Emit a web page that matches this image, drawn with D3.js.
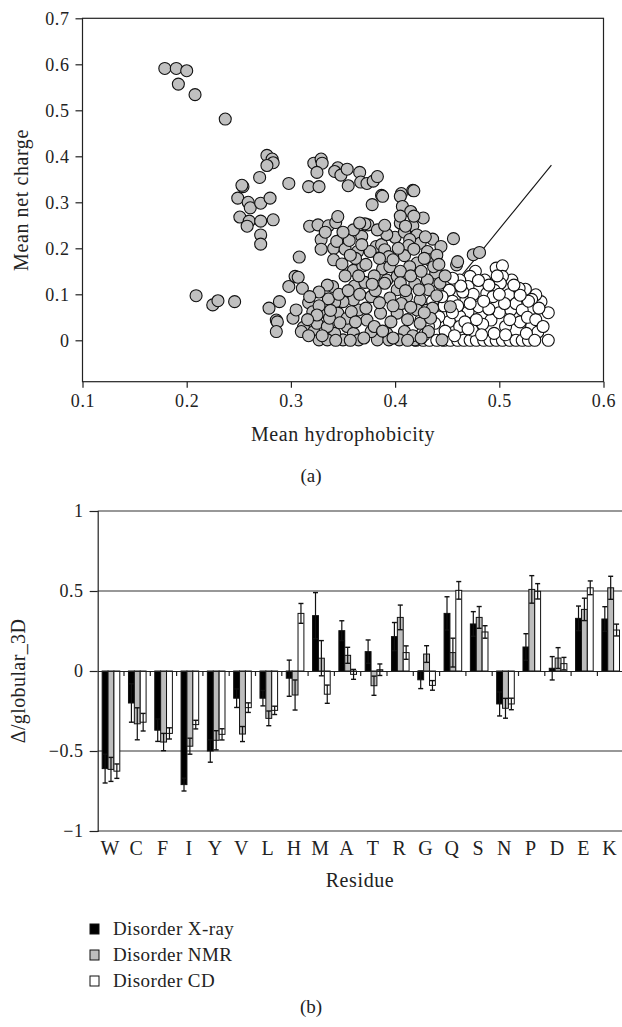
<!DOCTYPE html>
<html>
<head>
<meta charset="utf-8">
<script src="https://cdn.jsdelivr.net/npm/d3@7"></script>
<style>
  body { margin: 0; background: #fff; }
  text { font-family: "Liberation Serif", "Times New Roman", serif; fill: #222; }
</style>
</head>
<body>
<div id="chart"></div>
<script>
// ---- panel (a): scatter, mean hydrophobicity vs mean net charge ----
var disorderedPts = [
  [0.179,0.591],[0.190,0.591],[0.200,0.586],[0.192,0.557],[0.208,0.534],[0.237,0.481],
  [0.277,0.402],[0.282,0.394],[0.283,0.386],[0.277,0.380],[0.270,0.354],[0.254,0.334],[0.253,0.337],
  [0.298,0.341],[0.317,0.334],[0.327,0.334],[0.322,0.385],[0.329,0.394],[0.330,0.385],[0.325,0.365],
  [0.345,0.375],[0.342,0.367],[0.348,0.359],[0.354,0.372],[0.355,0.336],[0.366,0.365],[0.367,0.344],
  [0.373,0.341],[0.379,0.346],[0.383,0.356],[0.387,0.315],[0.406,0.319],[0.417,0.326],
  [0.249,0.309],[0.259,0.300],[0.261,0.288],[0.271,0.298],[0.280,0.309],[0.251,0.268],[0.260,0.259],
  [0.258,0.248],[0.271,0.259],[0.283,0.262],[0.271,0.229],[0.271,0.209],
  [0.209,0.097],[0.225,0.077],[0.230,0.086],[0.246,0.084],[0.279,0.070],[0.289,0.084],[0.286,0.044],
  [0.287,0.040],[0.286,0.019],[0.302,0.048],
  [0.298,0.117],[0.304,0.139],[0.307,0.137],[0.311,0.113],[0.308,0.181],[0.305,0.066],[0.317,0.082],
  [0.321,0.062],[0.312,0.028],[0.310,0.019],[0.322,0.019],[0.325,0.037],[0.327,0.001],[0.318,0.248],
  [0.326,0.251],[0.336,0.249],[0.343,0.256],[0.345,0.269],[0.329,0.219],[0.329,0.198],[0.341,0.200],
  [0.344,0.215],[0.341,0.175],[0.349,0.166],[0.352,0.198],[0.356,0.217],[0.360,0.152],[0.368,0.226],
  [0.374,0.251],[0.371,0.253],[0.378,0.295],[0.388,0.313],[0.382,0.204],[0.376,0.193],[0.364,0.193],
  [0.369,0.162],[0.387,0.208],[0.390,0.197],[0.394,0.182],[0.400,0.224],[0.405,0.313],[0.407,0.291],
  [0.415,0.280],[0.418,0.325],[0.405,0.255],[0.417,0.249],[0.427,0.266],[0.409,0.235],[0.421,0.229],
  [0.424,0.211],[0.414,0.219],[0.413,0.206],[0.431,0.193],[0.436,0.220],[0.444,0.204],[0.456,0.221],
  [0.459,0.164],[0.460,0.171],[0.475,0.186],[0.481,0.191],[0.433,0.175],[0.439,0.146],[0.431,0.131],
  [0.443,0.124],[0.421,0.168],[0.409,0.184],[0.414,0.160],[0.392,0.131],[0.402,0.139],
  [0.388,0.155],[0.390,0.124],[0.419,0.123],[0.411,0.095],[0.424,0.088],[0.421,0.066],[0.436,0.070],
  [0.424,0.037],[0.432,0.019],[0.409,0.019],[0.404,0.001],[0.402,0.059],[0.386,0.059],
  [0.392,0.015],[0.383,0.001],[0.377,0.019],[0.373,0.044],[0.365,0.066],[0.360,0.088],[0.361,0.118],
  [0.371,0.126],[0.377,0.095],[0.350,0.084],[0.342,0.082],[0.340,0.117],[0.345,0.059],[0.354,0.030],
  [0.360,0.015],[0.350,0.001],[0.342,0.015],[0.335,0.030],[0.335,0.001],[0.331,0.062],[0.337,0.048],
  [0.365,0.001],[0.354,0.048],[0.394,0.001],[0.419,0.001],[0.434,0.048],[0.432,0.110],[0.402,0.110],
  [0.336,0.090],[0.346,0.100],[0.355,0.108],[0.366,0.100],[0.381,0.108],[0.395,0.092],[0.406,0.080],
  [0.415,0.072],[0.398,0.075],[0.385,0.082],[0.372,0.070],[0.358,0.062],[0.347,0.038],[0.362,0.040],
  [0.380,0.030],[0.396,0.040],[0.412,0.045],[0.428,0.060],[0.417,0.010],[0.425,0.005],[0.412,0.000],
  [0.398,0.005],[0.388,0.020],[0.370,0.005],[0.357,0.000],[0.343,0.000],[0.330,0.010],[0.380,0.140],
  [0.395,0.160],[0.405,0.150],[0.398,0.175],[0.385,0.178],[0.372,0.165],[0.362,0.178],[0.352,0.140],
  [0.365,0.140],[0.378,0.122],[0.405,0.125],[0.415,0.140],[0.425,0.150],[0.428,0.178],[0.437,0.160],
  [0.440,0.185],[0.423,0.110],[0.410,0.108],[0.418,0.198],[0.403,0.200],[0.392,0.230],
  [0.383,0.240],[0.360,0.240],[0.350,0.235],[0.333,0.235],[0.405,0.270],[0.418,0.270],[0.366,0.255],
  [0.390,0.250],[0.368,0.208],[0.357,0.185],[0.335,0.120],[0.327,0.105],[0.318,0.095],[0.327,0.075],
  [0.338,0.065],[0.325,0.055],[0.316,0.045],[0.317,0.010],[0.429,0.225],[0.410,0.248],
  [0.440,0.097],[0.453,0.073],[0.445,0.001],[0.448,0.140],[0.442,0.165]
];
var orderedPts = [
  [0.420,0.000],[0.427,0.000],[0.433,0.000],[0.440,0.000],[0.447,0.000],[0.453,0.000],[0.460,0.000],
  [0.466,0.000],[0.472,0.000],[0.478,0.000],[0.485,0.000],[0.491,0.000],[0.497,0.000],[0.503,0.000],
  [0.510,0.000],[0.516,0.000],[0.522,0.000],[0.528,0.000],[0.547,0.000],
  [0.547,0.060],[0.540,0.084],[0.535,0.099],[0.531,0.089],[0.525,0.111],[0.519,0.113],[0.509,0.099],
  [0.515,0.055],[0.512,0.131],[0.497,0.157],[0.503,0.162],[0.503,0.139],[0.501,0.124],[0.495,0.109],
  [0.486,0.131],[0.477,0.150],[0.472,0.139],[0.462,0.131],[0.470,0.117],[0.458,0.120],[0.452,0.109],
  [0.488,0.102],[0.494,0.095],[0.480,0.073],[0.470,0.062],[0.462,0.052],[0.452,0.041],[0.442,0.051],
  [0.438,0.037],[0.462,0.030],[0.474,0.022],[0.492,0.044],[0.495,0.015],[0.506,0.030],[0.511,0.066],
  [0.516,0.080],[0.522,0.066],[0.531,0.030],[0.537,0.018],[0.526,0.015],[0.506,0.012],[0.484,0.035],
  [0.468,0.090],[0.455,0.085],[0.447,0.075],[0.432,0.030],[0.428,0.012],[0.448,0.020],[0.457,0.010],
  [0.483,0.012],[0.500,0.060],[0.505,0.080],[0.520,0.040],[0.527,0.050],[0.535,0.045],[0.528,0.085],
  [0.520,0.098],[0.514,0.120],[0.498,0.140],[0.490,0.120],[0.480,0.130],[0.475,0.100],[0.465,0.105],
  [0.460,0.075],[0.478,0.045],[0.490,0.068],[0.467,0.040],[0.455,0.060],[0.445,0.095],[0.436,0.085],
  [0.430,0.065],[0.425,0.045],[0.500,0.100],[0.510,0.045],[0.542,0.030],[0.538,0.070],[0.534,0.000],
  [0.485,0.085],[0.472,0.080],[0.463,0.118],[0.455,0.135],[0.470,0.025]
];
// boundary line <R> = 2.785<H> - 1.151
var boundaryLine = [[0.4133,0.0],[0.55,0.381]];
var hydroTicks = [0.1,0.2,0.3,0.4,0.5,0.6];
var chargeTicks = [0,0.1,0.2,0.3,0.4,0.5,0.6,0.7];

// ---- panel (b): bars with error bars ----
var residues = ["W","C","F","I","Y","V","L","H","M","A","T","R","G","Q","S","N","P","D","E","K"];
var seriesNames = ["Disorder X-ray","Disorder NMR","Disorder CD"];
var xrayVals = [-0.61,-0.20,-0.37,-0.71,-0.50,-0.17,-0.17,-0.045,0.346,0.252,0.121,0.215,-0.055,0.36,0.294,-0.206,0.15,0.017,0.329,0.325];
var xrayErr  = [0.09,0.12,0.07,0.04,0.07,0.058,0.048,0.113,0.144,0.062,0.073,0.088,0.055,0.104,0.077,0.075,0.083,0.073,0.077,0.077];
var nmrVals  = [-0.615,-0.33,-0.444,-0.47,-0.433,-0.394,-0.296,-0.15,0.08,0.098,-0.092,0.335,0.106,0.115,0.335,-0.233,0.51,0.081,0.385,0.52];
var nmrErr   = [0.075,0.10,0.054,0.05,0.06,0.047,0.046,0.094,0.11,0.05,0.06,0.077,0.052,0.09,0.068,0.062,0.086,0.065,0.07,0.072];
var cdVals   = [-0.626,-0.32,-0.39,-0.335,-0.396,-0.229,-0.246,0.36,-0.145,-0.021,0.008,0.115,-0.09,0.504,0.244,-0.206,0.498,0.046,0.52,0.256];
var cdErr    = [0.045,0.055,0.035,0.027,0.035,0.03,0.026,0.062,0.057,0.031,0.036,0.042,0.03,0.055,0.039,0.036,0.048,0.039,0.043,0.037];
var deltaTicks = [-1,-0.5,0,0.5,1];
var barColors = ["#000000","#bdbdbd","#ffffff"];

var svg = d3.select("#chart").append("svg")
  .attr("width", 622).attr("height", 1027);

function styleAxis(g, size) {
  g.selectAll("line").attr("stroke", "#222").attr("stroke-width", 1.2);
  g.selectAll("text").attr("font-size", size).attr("font-family", "Liberation Serif")
    .attr("fill", "#222").attr("letter-spacing", 0.6);
}

// ===== panel (a) =====
var xA = d3.scaleLinear().domain([0.1, 0.6]).range([82.5, 603.5]);
var yA = d3.scaleLinear().domain([-0.09, 0.7]).range([381.7, 18.3]);

var gA = svg.append("g");
gA.append("rect")
  .attr("x", xA(0.1)).attr("y", yA(0.7))
  .attr("width", xA(0.6) - xA(0.1)).attr("height", yA(-0.09) - yA(0.7))
  .attr("fill", "none").attr("stroke", "#222").attr("stroke-width", 1.2);

gA.append("g")
  .attr("transform", "translate(0," + yA(-0.09) + ")")
  .call(d3.axisBottom(xA).tickValues(hydroTicks).tickSize(6).tickPadding(7)
    .tickFormat(function(d) { return d3.format(".1f")(d); }))
  .call(function(g) { g.select(".domain").remove(); styleAxis(g, 18); });

gA.append("g")
  .attr("transform", "translate(" + xA(0.1) + ",0)")
  .call(d3.axisLeft(yA).tickValues(chargeTicks).tickSize(7).tickPadding(6)
    .tickFormat(function(d) { return d === 0 ? "0" : d3.format(".1f")(d); }))
  .call(function(g) { g.select(".domain").remove(); styleAxis(g, 18); });

gA.append("line")
  .attr("x1", xA(boundaryLine[0][0])).attr("y1", yA(boundaryLine[0][1]))
  .attr("x2", xA(boundaryLine[1][0])).attr("y2", yA(boundaryLine[1][1]))
  .attr("stroke", "#111").attr("stroke-width", 1.1);

gA.append("g").selectAll("circle")
  .data(orderedPts).enter().append("circle")
  .attr("cx", function(d) { return xA(d[0]); })
  .attr("cy", function(d) { return yA(d[1]); })
  .attr("r", 6)
  .attr("fill", "#ffffff").attr("stroke", "#111").attr("stroke-width", 1.1);

gA.append("g").selectAll("circle")
  .data(disorderedPts).enter().append("circle")
  .attr("cx", function(d) { return xA(d[0]); })
  .attr("cy", function(d) { return yA(d[1]); })
  .attr("r", 6)
  .attr("fill", "#c0c0c0").attr("stroke", "#111").attr("stroke-width", 1.1);

gA.append("text").attr("x", (xA(0.1) + xA(0.6)) / 2).attr("y", 441)
  .attr("text-anchor", "middle").attr("font-size", 20).attr("letter-spacing", 0.6)
  .text("Mean hydrophobicity");
gA.append("text").attr("transform", "translate(28," + (yA(0.7) + yA(-0.09)) / 2 + ") rotate(-90)")
  .attr("text-anchor", "middle").attr("font-size", 20).attr("letter-spacing", 0.6)
  .text("Mean net charge");
gA.append("text").attr("x", 311).attr("y", 482)
  .attr("text-anchor", "middle").attr("font-size", 19).text("(a)");

// ===== panel (b) =====
var xB = d3.scaleBand().domain(residues).range([97.7, 97.7 + 20 * 26.3]).padding(0);
var xSub = d3.scaleBand().domain(d3.range(3))
  .range([xB.bandwidth() * 0.17, xB.bandwidth() * 0.84]).padding(0);
var yB = d3.scaleLinear().domain([-1, 1]).range([831, 511]);

var gB = svg.append("g");

// horizontal lines at 1, 0.5, -0.5, -1
gB.append("g").selectAll("line")
  .data(deltaTicks.filter(function(d) { return d !== 0; })).enter().append("line")
  .attr("x1", 97.7).attr("x2", 622)
  .attr("y1", function(d) { return yB(d); }).attr("y2", function(d) { return yB(d); })
  .attr("stroke", "#333").attr("stroke-width", 1.2);

gB.append("g")
  .attr("transform", "translate(97.7,0)")
  .call(d3.axisLeft(yB).tickValues(deltaTicks).tickSize(8).tickPadding(6)
    .tickFormat(function(d) { return d3.format("")(d); }))
  .call(function(g) {
    g.select(".domain").attr("stroke", "#222").attr("stroke-width", 1.2);
    styleAxis(g, 18);
  });

var seriesVals = [xrayVals, nmrVals, cdVals];
var seriesErr = [xrayErr, nmrErr, cdErr];
var barData = [];
residues.forEach(function(r, i) {
  for (var s = 0; s < 3; s++) {
    barData.push({res: r, s: s, v: seriesVals[s][i], e: seriesErr[s][i]});
  }
});

gB.append("g").selectAll("rect")
  .data(barData).enter().append("rect")
  .attr("x", function(d) { return xB(d.res) + xSub(d.s); })
  .attr("width", xSub.bandwidth())
  .attr("y", function(d) { return yB(Math.max(0, d.v)); })
  .attr("height", function(d) { return Math.abs(yB(d.v) - yB(0)); })
  .attr("fill", function(d) { return barColors[d.s]; })
  .attr("stroke", "#111").attr("stroke-width", 1);

// zero line with category ticks
gB.append("g")
  .attr("transform", "translate(0," + yB(0) + ")")
  .call(d3.axisBottom(xB).tickSize(0).tickFormat(""))
  .call(function(g) {
    g.select(".domain").attr("stroke", "#222").attr("stroke-width", 1.2);
    g.selectAll(".tick").remove();
  });
gB.append("g").selectAll("line")
  .data(residues.slice(1)).enter().append("line")
  .attr("x1", function(d) { return xB(d); }).attr("x2", function(d) { return xB(d); })
  .attr("y1", yB(0)).attr("y2", yB(0) + 5)
  .attr("stroke", "#222").attr("stroke-width", 1.2);

// error bars
var eb = gB.append("g").selectAll("g")
  .data(barData).enter().append("g")
  .attr("transform", function(d) { return "translate(" + (xB(d.res) + xSub(d.s) + xSub.bandwidth() / 2) + ",0)"; });
eb.append("line")
  .attr("y1", function(d) { return yB(d.v - d.e); }).attr("y2", function(d) { return yB(d.v + d.e); })
  .attr("stroke", "#111").attr("stroke-width", 1.2);
eb.append("line").attr("x1", -2.5).attr("x2", 2.5)
  .attr("y1", function(d) { return yB(d.v - d.e); }).attr("y2", function(d) { return yB(d.v - d.e); })
  .attr("stroke", "#111").attr("stroke-width", 1.4);
eb.append("line").attr("x1", -2.5).attr("x2", 2.5)
  .attr("y1", function(d) { return yB(d.v + d.e); }).attr("y2", function(d) { return yB(d.v + d.e); })
  .attr("stroke", "#111").attr("stroke-width", 1.4);

// residue labels
gB.append("g").selectAll("text")
  .data(residues).enter().append("text")
  .attr("x", function(d) { return xB(d) + xB.bandwidth() / 2 - 1; })
  .attr("y", 855)
  .attr("text-anchor", "middle").attr("font-size", 20)
  .text(function(d) { return d; });

gB.append("text").attr("x", 360).attr("y", 887)
  .attr("text-anchor", "middle").attr("font-size", 20).attr("letter-spacing", 0.6).text("Residue");
gB.append("text").attr("transform", "translate(25,681) rotate(-90)")
  .attr("text-anchor", "middle").attr("font-size", 20).attr("letter-spacing", 0.4).text("\u0394/globular_3D");

// legend
var leg = gB.append("g").selectAll("g")
  .data(seriesNames).enter().append("g")
  .attr("transform", function(d, i) { return "translate(90," + (924 + i * 26) + ")"; });
leg.append("rect").attr("width", 9).attr("height", 10)
  .attr("fill", function(d, i) { return barColors[i]; })
  .attr("stroke", "#111").attr("stroke-width", 1);
leg.append("text").attr("x", 23).attr("y", 11).attr("font-size", 19).attr("letter-spacing", 0.4)
  .text(function(d) { return d; });

gB.append("text").attr("x", 311).attr("y", 1013)
  .attr("text-anchor", "middle").attr("font-size", 19).text("(b)");
</script>
</body>
</html>
